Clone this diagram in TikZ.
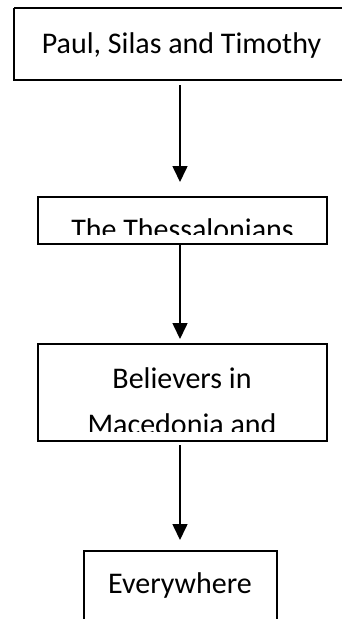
\documentclass[tikz,border=0pt]{standalone}
\usepackage{fontspec}
\setmainfont{Carlito}
\usetikzlibrary{arrows.meta}
\tikzset{
  box/.style={draw=black, line width=1.6pt, fill=none},
  lbl/.style={anchor=base, inner sep=0pt, font=\fontsize{30}{36}\selectfont},
  flow/.style={line width=1.6pt, -{Triangle[length=16pt,width=15pt]}}
}
\begin{document}
\begin{tikzpicture}[x=1pt,y=-1pt]
\useasboundingbox (0,0) rectangle (342,619);
\clip (0,0) rectangle (342,619);
% boxes
\draw[box] (14,8) -- (350,8) (14,8) -- (14,80) -- (350,80);
\coordinate (b1) at (180,85);
\draw[box] (38,197) rectangle (327,244);
\coordinate (b2b) at (180,243);
\draw[box] (38,344) rectangle (327,441);
\coordinate (b3b) at (180,445);
\draw[box] (84,640) -- (84,551) -- (277,551) -- (277,640);
% texts
\node[lbl] (t1) at (181.5,53) {Paul, Silas and Timothy};
\begin{scope}
\clip (39,198) rectangle (326,234);
\node[lbl] (t2) at (182.5,239) {The Thessalonians};
\end{scope}
\node[lbl] (t3a) at (182,388.5) {Believers in};
\begin{scope}
\clip (39,345) rectangle (326,431);
\node[lbl] (t3b) at (182,434) {Macedonia and};
\end{scope}
\node[lbl] (t4) at (180,593.5) {Everywhere};
% arrows
\coordinate (a1) at (180,182);
\coordinate (a2) at (180,339);
\coordinate (a3) at (180,540);
\draw[flow] (b1) -- (a1);
\draw[flow] (b2b) -- (a2);
\draw[flow] (b3b) -- (a3);
\end{tikzpicture}
\end{document}
